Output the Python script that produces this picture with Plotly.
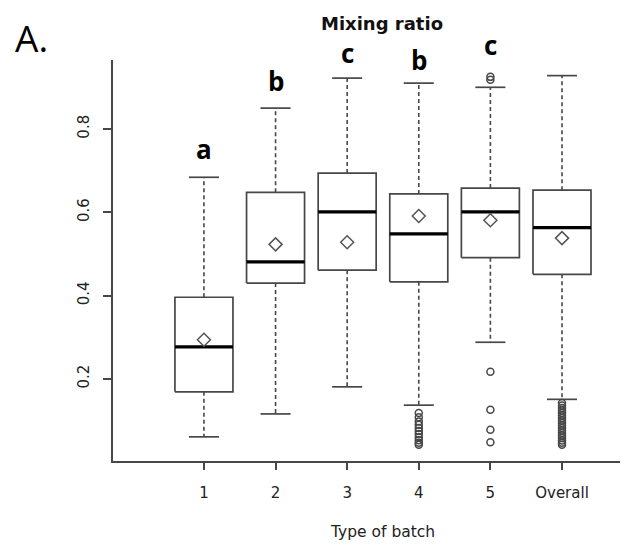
import plotly.graph_objects as go

# ---- data ----
categories = ["1", "2", "3", "4", "5", "Overall"]
lower_whisker = [0.061, 0.116, 0.181, 0.137, 0.288, 0.151]
q1 = [0.169, 0.430, 0.461, 0.433, 0.491, 0.451]
median = [0.277, 0.481, 0.601, 0.548, 0.601, 0.563]
q3 = [0.396, 0.648, 0.694, 0.644, 0.658, 0.653]
upper_whisker = [0.684, 0.850, 0.922, 0.910, 0.900, 0.928]
means = [0.294, 0.523, 0.528, 0.591, 0.581, 0.538]
outliers = {
    "4": [0.118, 0.108, 0.098, 0.090, 0.082, 0.075, 0.068, 0.060, 0.053, 0.047, 0.042],
    "5": [0.925, 0.918, 0.217, 0.126, 0.078, 0.048],
    "Overall": [0.142, 0.136, 0.130, 0.124, 0.118, 0.112, 0.106, 0.100, 0.094, 0.088,
                0.082, 0.076, 0.070, 0.064, 0.058, 0.052, 0.047, 0.042],
}
letters = ["a", "b", "c", "b", "c", ""]
y_ticks = [0.2, 0.4, 0.6, 0.8]

# ---- layout / styling ----
Y_RANGE = [0.003, 0.9655]
letter_pos = [0.752, 0.915, 0.982, 0.965, 1.002, None]  # label heights in axis units
LINE = "#474747"
HALF_BOX = 0.405
HALF_CAP = 0.21
FONT = "DejaVu Sans"

fig = go.Figure()
xs = list(range(1, len(categories) + 1))

# boxes
bx, by = [], []
for i, x in enumerate(xs):
    bx += [x - HALF_BOX, x + HALF_BOX, x + HALF_BOX, x - HALF_BOX, x - HALF_BOX, None]
    by += [q1[i], q1[i], q3[i], q3[i], q1[i], None]
fig.add_trace(go.Scatter(x=bx, y=by, mode="lines", line=dict(color=LINE, width=1.7),
                         hoverinfo="skip", showlegend=False))

# medians
mx, my = [], []
for i, x in enumerate(xs):
    mx += [x - HALF_BOX, x + HALF_BOX, None]
    my += [median[i], median[i], None]
fig.add_trace(go.Scatter(x=mx, y=my, mode="lines", line=dict(color="black", width=3.2),
                         hoverinfo="skip", showlegend=False))

# dashed whiskers
wx, wy = [], []
for i, x in enumerate(xs):
    wx += [x, x, None, x, x, None]
    wy += [q3[i], upper_whisker[i], None, q1[i], lower_whisker[i], None]
fig.add_trace(go.Scatter(x=wx, y=wy, mode="lines", line=dict(color=LINE, width=1.6, dash="4px,3px"),
                         hoverinfo="skip", showlegend=False))

# whisker caps
cx, cy = [], []
for i, x in enumerate(xs):
    cx += [x - HALF_CAP, x + HALF_CAP, None, x - HALF_CAP, x + HALF_CAP, None]
    cy += [upper_whisker[i], upper_whisker[i], None, lower_whisker[i], lower_whisker[i], None]
fig.add_trace(go.Scatter(x=cx, y=cy, mode="lines", line=dict(color=LINE, width=1.7),
                         hoverinfo="skip", showlegend=False))

# outliers
ox, oy = [], []
for cat, vals in outliers.items():
    x = xs[categories.index(cat)]
    ox += [x] * len(vals)
    oy += vals
fig.add_trace(go.Scatter(x=ox, y=oy, mode="markers",
                         marker=dict(symbol="circle-open", size=7, color=LINE, line=dict(width=1.5)),
                         showlegend=False))

# means
fig.add_trace(go.Scatter(x=xs, y=means, mode="markers",
                         marker=dict(symbol="diamond-open", size=10, color="#555555", line=dict(width=1.5)),
                         showlegend=False))

# significance letters (y in paper units so they are not hidden above the range)
for x, t, yy in zip(xs, letters, letter_pos):
    if t:
        fig.add_annotation(x=x, y=(yy - Y_RANGE[0]) / (Y_RANGE[1] - Y_RANGE[0]),
                           xref="x", yref="paper", text=t, showarrow=False,
                           font=dict(family="Open Sans", size=26, color="black", weight="bold"),
                           yanchor="middle", xanchor="center")

# title, axis title, panel label
fig.add_annotation(x=0.531, y=1.092, xref="paper", yref="paper", text="<b>Mixing ratio</b>",
                   showarrow=False, font=dict(family=FONT, size=18, color="#111111"),
                   xanchor="center", yanchor="middle")
fig.add_annotation(x=0.5325, y=-0.176, xref="paper", yref="paper", text="Type of batch",
                   showarrow=False, font=dict(family=FONT, size=15.5, color="#222222"),
                   xanchor="center", yanchor="middle")
fig.add_annotation(x=-0.160, y=1.055, xref="paper", yref="paper", text="A.",
                   showarrow=False, font=dict(family="Open Sans", size=37, color="black"),
                   xanchor="center", yanchor="middle")

fig.update_layout(
    width=628, height=548,
    margin=dict(l=105, r=16, t=52, b=95),
    paper_bgcolor="white", plot_bgcolor="white",
    font=dict(family=FONT, size=15, color="#222222"),
    xaxis=dict(range=[-0.27, 6.81], tickvals=xs, ticktext=categories,
               showgrid=False, zeroline=False, showline=True, linecolor=LINE, linewidth=1.5,
               ticks="outside", ticklen=7, tickwidth=1.5, tickcolor=LINE,
               ticklabelstandoff=10),
    yaxis=dict(range=Y_RANGE, tickvals=y_ticks, ticktext=[f"{v:.1f}" for v in y_ticks],
               tickangle=-90, showgrid=False, zeroline=False, showline=True, linecolor=LINE,
               linewidth=1.5, ticks="outside", ticklen=8, tickwidth=1.5, tickcolor=LINE,
               ticklabelstandoff=8),
)

fig.write_html("out.html")
